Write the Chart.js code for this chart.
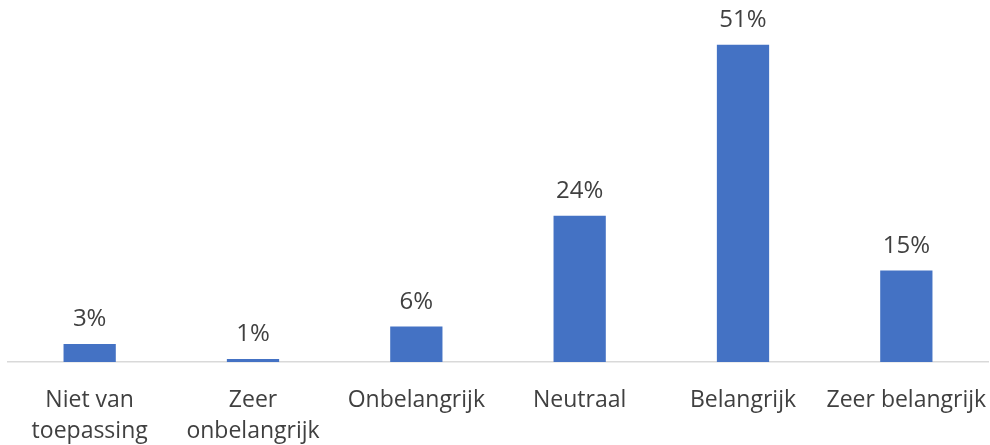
<!DOCTYPE html>
<html>
<head>
<meta charset="utf-8">
<script src="https://cdn.jsdelivr.net/npm/chart.js@4/dist/chart.umd.min.js"></script>
<style>
  html, body { margin: 0; padding: 0; background: #ffffff; }
  #wrap { width: 990px; height: 445px; position: relative; }
</style>
</head>
<body>
<div id="wrap"><canvas id="c"></canvas></div>
<script>
const categories = [
  ["Niet van", "toepassing"],
  ["Zeer", "onbelangrijk"],
  "Onbelangrijk",
  "Neutraal",
  "Belangrijk",
  "Zeer belangrijk"
];
// bar heights (percent)
const values = [2.9, 0.5, 5.7, 23.5, 51, 14.7];
const valueLabels = ["3%", "1%", "6%", "24%", "51%", "15%"];

const FONT = "'Open Sans', 'Liberation Sans', sans-serif";
const TEXT = "#404040";

const dataLabels = {
  id: "dataLabels",
  afterDatasetsDraw(chart) {
    const ctx = chart.ctx;
    const meta = chart.getDatasetMeta(0);
    ctx.save();
    ctx.font = "24px " + FONT;
    ctx.fillStyle = TEXT;
    ctx.textAlign = "center";
    ctx.textBaseline = "alphabetic";
    meta.data.forEach((bar, i) => {
      ctx.fillText(valueLabels[i], bar.x, bar.y - 18);
    });
    ctx.restore();
  }
};

new Chart(document.getElementById("c"), {
  type: "bar",
  data: {
    labels: categories,
    datasets: [{
      data: values,
      backgroundColor: "#4472C4",
      barPercentage: 0.32,
      categoryPercentage: 1
    }]
  },
  options: {
    responsive: true,
    maintainAspectRatio: false,
    animation: false,
    layout: { padding: { left: 8, right: 2, top: 0, bottom: 0 } },
    plugins: { legend: { display: false }, tooltip: { enabled: false } },
    scales: {
      x: {
        grid: { display: false, drawTicks: false },
        border: { display: true, color: "#d9d9d9", width: 1.5 },
        ticks: {
          color: TEXT,
          font: { family: FONT, size: 23, lineHeight: 1.35 },
          padding: 23,
          maxRotation: 0,
          autoSkip: false
        },
        afterFit(scale) {
          scale.paddingLeft = 0;
          scale.paddingRight = 0;
          scale.height = 83;
        }
      },
      y: {
        display: false,
        min: 0,
        max: 58.2
      }
    }
  },
  plugins: [dataLabels]
});
</script>
</body>
</html>
